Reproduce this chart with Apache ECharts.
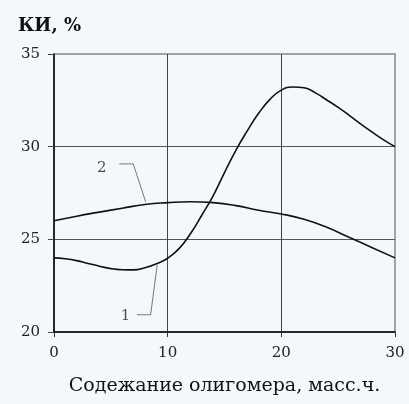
<!DOCTYPE html>
<html><head><meta charset="utf-8">
<script src="https://cdn.jsdelivr.net/npm/echarts@6/dist/echarts.min.js"></script>
<style>html,body{margin:0;padding:0;background:#f4f7fc}#c{width:409px;height:404px}</style>
</head><body><div id="c"></div>
<script>
const xTicks = [0, 10, 20, 30];
const yTicks = [20, 25, 30, 35];
const x1 = [0,1,2,3,4,5,6,7,8,9,10,11,12,13,14,15,16,17,18,19,20,21,22,23,24,25,26,27,28,29,30];
const y1 = [24.0,23.95,23.85,23.7,23.55,23.42,23.36,23.35,23.47,23.68,23.98,24.5,25.3,26.3,27.35,28.6,29.8,30.85,31.8,32.55,33.05,33.22,33.18,32.9,32.52,32.12,31.68,31.22,30.78,30.37,30.0];
const x2 = [0,2,4,6,8,10,12,14,16,18,20,22,24,26,28,30];
const y2 = [26.0,26.25,26.47,26.68,26.88,26.98,27.03,26.98,26.82,26.57,26.37,26.08,25.65,25.1,24.55,24.0];
const label1 = {text:'1', at:[6.3, 20.85], leader:[[7.3,20.93],[8.5,20.93],[9.08,23.62]]};
const label2 = {text:'2', at:[4.2, 28.85], leader:[[5.74,29.07],[6.97,29.07],[8.06,27.03]]};
const xName = 'Содежание олигомера, масс.ч.';
const yName = 'КИ, %';

const font = '"DejaVu Serif", "Liberation Serif", serif';
const chart = echarts.init(document.getElementById('c'));
function zip(a,b){return a.map((v,i)=>[v,b[i]]);}
function leaderSeries(l){
  return {type:'line', data:l.leader, symbol:'none', silent:true, z:1,
    lineStyle:{color:'#777', width:1}, animation:false};
}
function labelSeries(l){
  return {type:'scatter', data:[l.at], symbolSize:0, silent:true,
    label:{show:true, formatter:l.text, position:'inside', color:'#222', fontSize:15, fontFamily:font}};
}
chart.setOption({
  animation:false,
  backgroundColor:'#f4f7fc',
  title:{text:yName, left:13, top:12, textStyle:{fontFamily:font, fontSize:18, fontWeight:'bold', color:'#111'}},
  grid:{left:54, right:14, top:54, bottom:72, show:true, borderColor:'#888', borderWidth:1.5, backgroundColor:'transparent'},
  xAxis:{type:'value', min:xTicks[0], max:xTicks[xTicks.length-1], interval:10,
    name:xName, nameLocation:'middle', nameGap:45,
    nameTextStyle:{fontFamily:font, fontSize:19, color:'#111'},
    axisLine:{show:true, onZero:false, lineStyle:{color:'#000', width:1.5}},
    axisTick:{show:true, length:5, lineStyle:{color:'#333'}},
    axisLabel:{margin:14, fontFamily:font, fontSize:15, color:'#222', formatter:v=>xTicks.includes(v)?String(v):''},
    splitLine:{show:true, showMinLine:false, showMaxLine:false, lineStyle:{color:'#444', width:1}}
  },
  yAxis:{type:'value', min:yTicks[0], max:yTicks[yTicks.length-1], interval:5,
    axisLine:{show:true, onZero:false, lineStyle:{color:'#000', width:1.5}},
    axisTick:{show:true, length:6, lineStyle:{color:'#444'}},
    axisLabel:{margin:14, fontFamily:font, fontSize:15, color:'#222', formatter:v=>yTicks.includes(v)?String(v):''},
    splitLine:{show:true, showMinLine:false, showMaxLine:false, lineStyle:{color:'#555', width:1}}
  },
  series:[
    {type:'line', data:zip(x1,y1), smooth:true, symbol:'none', lineStyle:{color:'#111', width:1.6}, z:3},
    {type:'line', data:zip(x2,y2), smooth:true, symbol:'none', lineStyle:{color:'#111', width:1.6}, z:3},
    leaderSeries(label1), leaderSeries(label2), labelSeries(label1), labelSeries(label2)
  ]
});
</script></body></html>
